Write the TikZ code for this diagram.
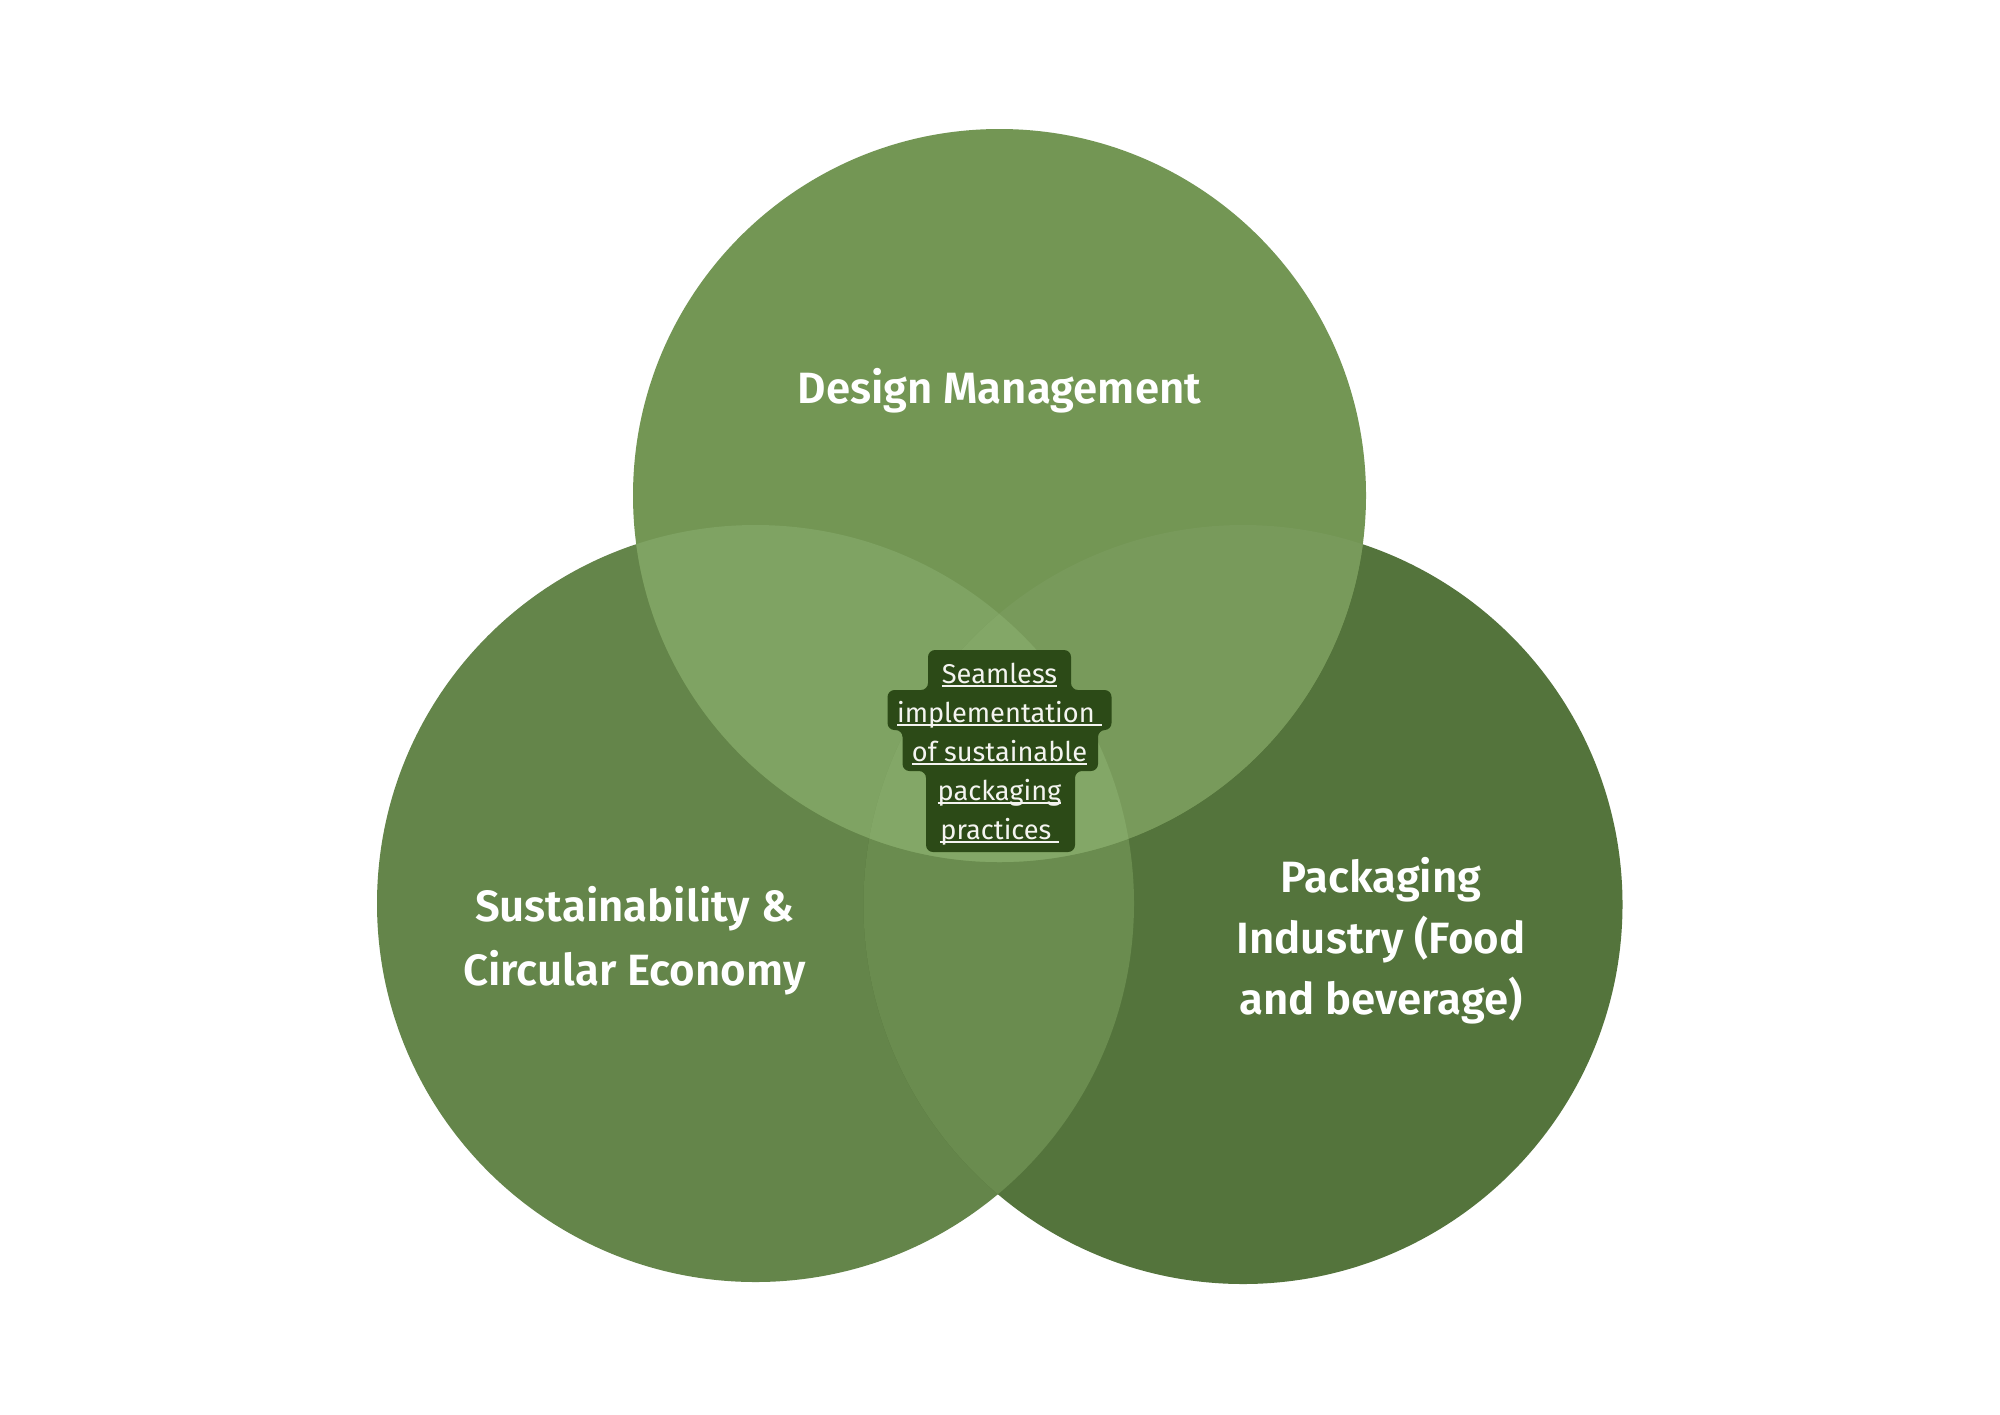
\documentclass[tikz,border=0pt]{standalone}
\usepackage{fontspec}
\setmainfont{Fira Sans}
\newfontfamily\labfont{Fira Sans SemiBold}
\newfontfamily\smallfont{Fira Sans}
\newcommand\ulx[1]{\setbox0=\hbox{#1}\rlap{\rule[-1.8pt]{\wd0}{0.75pt}}\box0}
\definecolor{colT}{HTML}{739654}
\definecolor{colL}{HTML}{64854A}
\definecolor{colR}{HTML}{54743C}
\definecolor{colTL}{HTML}{7FA363}
\definecolor{colTR}{HTML}{789A5B}
\definecolor{colLR}{HTML}{6A8C4F}
\definecolor{colTLR}{HTML}{83A767}
\definecolor{colBox}{HTML}{2C4A17}
\definecolor{colTxt}{HTML}{F4F4F0}
\tikzset{
  lab/.style={text=white, font={\labfont\fontsize{21.9}{25}\selectfont}, anchor=base, inner sep=0pt},
  ctext/.style={text=colTxt, font={\smallfont\fontsize{13.6}{16}\selectfont}, anchor=base, inner sep=0pt}
}
\begin{document}
\begin{tikzpicture}[x=0.5pt,y=-0.5pt]
\useasboundingbox (0,0) rectangle (2000,1414);
\fill[white] (0,0) rectangle (2000,1414);
\coordinate (cT) at (999.5,495.5);
\coordinate (cL) at (755.5,903.5);
\coordinate (cR) at (1243,904.5);
% base circles
\fill[colL] (cL) circle [radius=378.5];
\fill[colR] (cR) circle [radius=379.5];
\fill[colT] (cT) circle [radius=366.5];
% pairwise overlaps
\begin{scope}
  \clip (cL) circle [radius=378.5];
  \fill[colLR] (cR) circle [radius=379.5];
\end{scope}
\begin{scope}
  \clip (cT) circle [radius=366.5];
  \fill[colTL] (cL) circle [radius=378.5];
\end{scope}
\begin{scope}
  \clip (cT) circle [radius=366.5];
  \fill[colTR] (cR) circle [radius=379.5];
\end{scope}
% triple overlap
\begin{scope}
  \clip (cT) circle [radius=366.5];
  \clip (cL) circle [radius=378.5];
  \fill[colTLR] (cR) circle [radius=379.5];
\end{scope}
% labels
\node[lab] (dm) at (999.5,403) {Design Management};
\node[lab] (s1) at (634.5,921) {Sustainability \&};
\node[lab] (s2) at (634.5,985) {Circular Economy};
\node[lab] (p1) at (1381,892) {Packaging};
\node[lab] (p2) at (1381,953) {Industry (Food};
\node[lab] (p3) at (1381,1014) {and beverage)};
% centre box
\fill[colBox, rounded corners=3.5pt]
  (928,650) -- (1071,650) -- (1071,690) -- (1111.5,690) -- (1111.5,730)
  -- (1098,730) -- (1098,771) -- (1075,771) -- (1075,852) -- (926,852)
  -- (926,771) -- (902.5,771) -- (902.5,730) -- (887.5,730) -- (887.5,690)
  -- (928,690) -- cycle;
\node[ctext] (c1) at (999.5,683) {\ulx{Seamless}};
\node[ctext] (c2) at (999.5,722) {\ulx{implementation\ }};
\node[ctext] (c3) at (999.5,761) {\ulx{of sustainable}};
\node[ctext] (c4) at (999.5,800) {\ulx{packaging}};
\node[ctext] (c5) at (999.5,839) {\ulx{practices\ }};
\end{tikzpicture}
\end{document}
